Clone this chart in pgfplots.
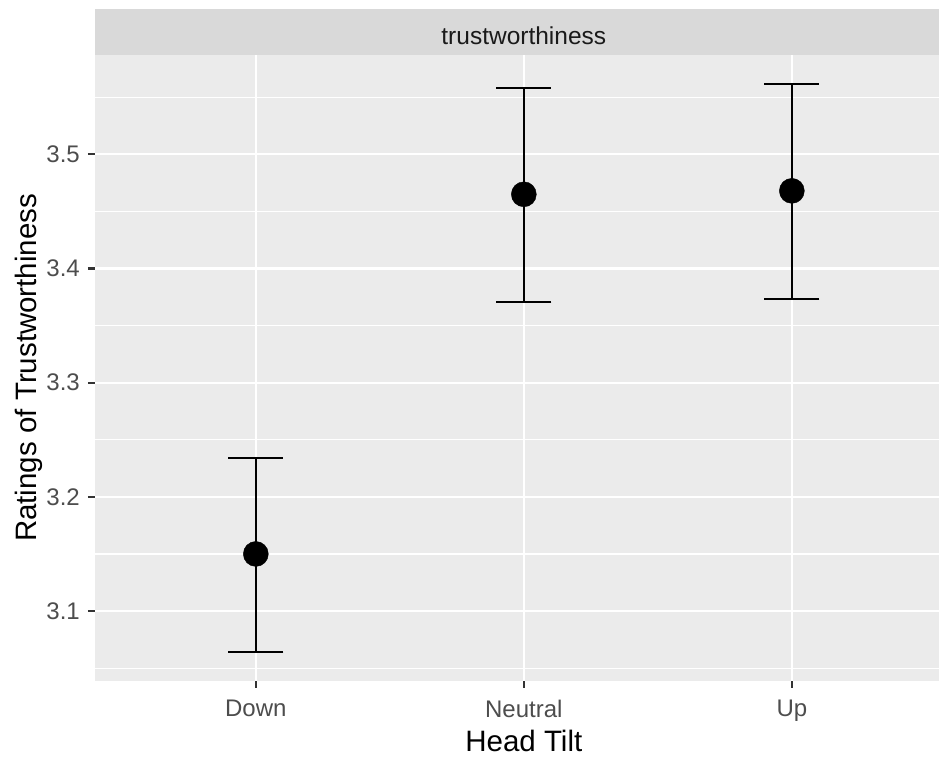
\documentclass[border=0pt]{standalone}
\usepackage{pgfplots}
\pgfplotsset{compat=1.18}
\usepackage{pgfplotstable}
\usepackage{fontspec}
\setmainfont{Liberation Sans}
\definecolor{panel}{HTML}{EBEBEB}
\definecolor{strip}{HTML}{D9D9D9}
\definecolor{tickcol}{HTML}{333333}
\definecolor{labcol}{HTML}{4D4D4D}
\definecolor{striptext}{HTML}{1A1A1A}
\pgfplotstableread{
x y ep em
1 3.150 0.084 0.086
2 3.465 0.093 0.094
3 3.468 0.0935 0.095
}\datatable
\begin{document}
\begin{tikzpicture}
\useasboundingbox (-95bp,-76.3bp) rectangle (844bp,680.7bp);
\begin{axis}[
  at={(0,0)}, anchor=south west,
  scale only axis, width=844bp, height=625.7bp,
  xmin=0.4, xmax=3.549, ymin=3.039, ymax=3.587,
  axis background/.style={fill=panel},
  axis line style={draw=none},
  xtick={1,2,3}, xticklabels={Down,Neutral,Up},
  ytick={3.1,3.2,3.3,3.4,3.5}, yticklabels={3.1,3.2,3.3,3.4,3.5},
  minor ytick={3.05,3.15,3.25,3.35,3.45,3.55},
  xtick pos=left, ytick pos=left,
  tick align=outside,
  major tick length=7bp, minor tick length=0pt,
  major tick style={tickcol, line width=2.2bp},
  grid=both,
  major grid style={white, line width=2.2bp},
  minor grid style={white, line width=1.1bp},
  ticklabel style={font=\fontsize{24bp}{28bp}\selectfont, text=labcol},
  yticklabel style={inner sep=0pt, xshift=-8bp},
  xticklabel style={inner sep=0pt, yshift=-12bp},
  clip=false,
]
\addplot[only marks, mark=*, black, mark size=12.5bp,
  error bars/.cd, y dir=both, y explicit,
  error bar style={line width=2.2bp, black},
  error mark options={rotate=90, mark size=27.5bp, line width=2.2bp, black}]
  table[x=x, y=y, y error plus=ep, y error minus=em] {\datatable};
\end{axis}
\fill[strip] (0,625.7bp) rectangle (844bp,671.4bp);
\node[anchor=base, inner sep=0pt, text=striptext, font=\fontsize{24.5bp}{28bp}\selectfont] at (428.8bp,635.7bp) {trustworthiness};
\node[anchor=base, inner sep=0pt, font=\fontsize{29.5bp}{34bp}\selectfont] at (428.8bp,-70.3bp) {Head Tilt};
\node[rotate=90, anchor=north, inner sep=0pt, font=\fontsize{29.5bp}{34bp}\selectfont] at (-80bp,312.85bp) {Ratings of Trustworthiness};
\end{tikzpicture}
\end{document}
